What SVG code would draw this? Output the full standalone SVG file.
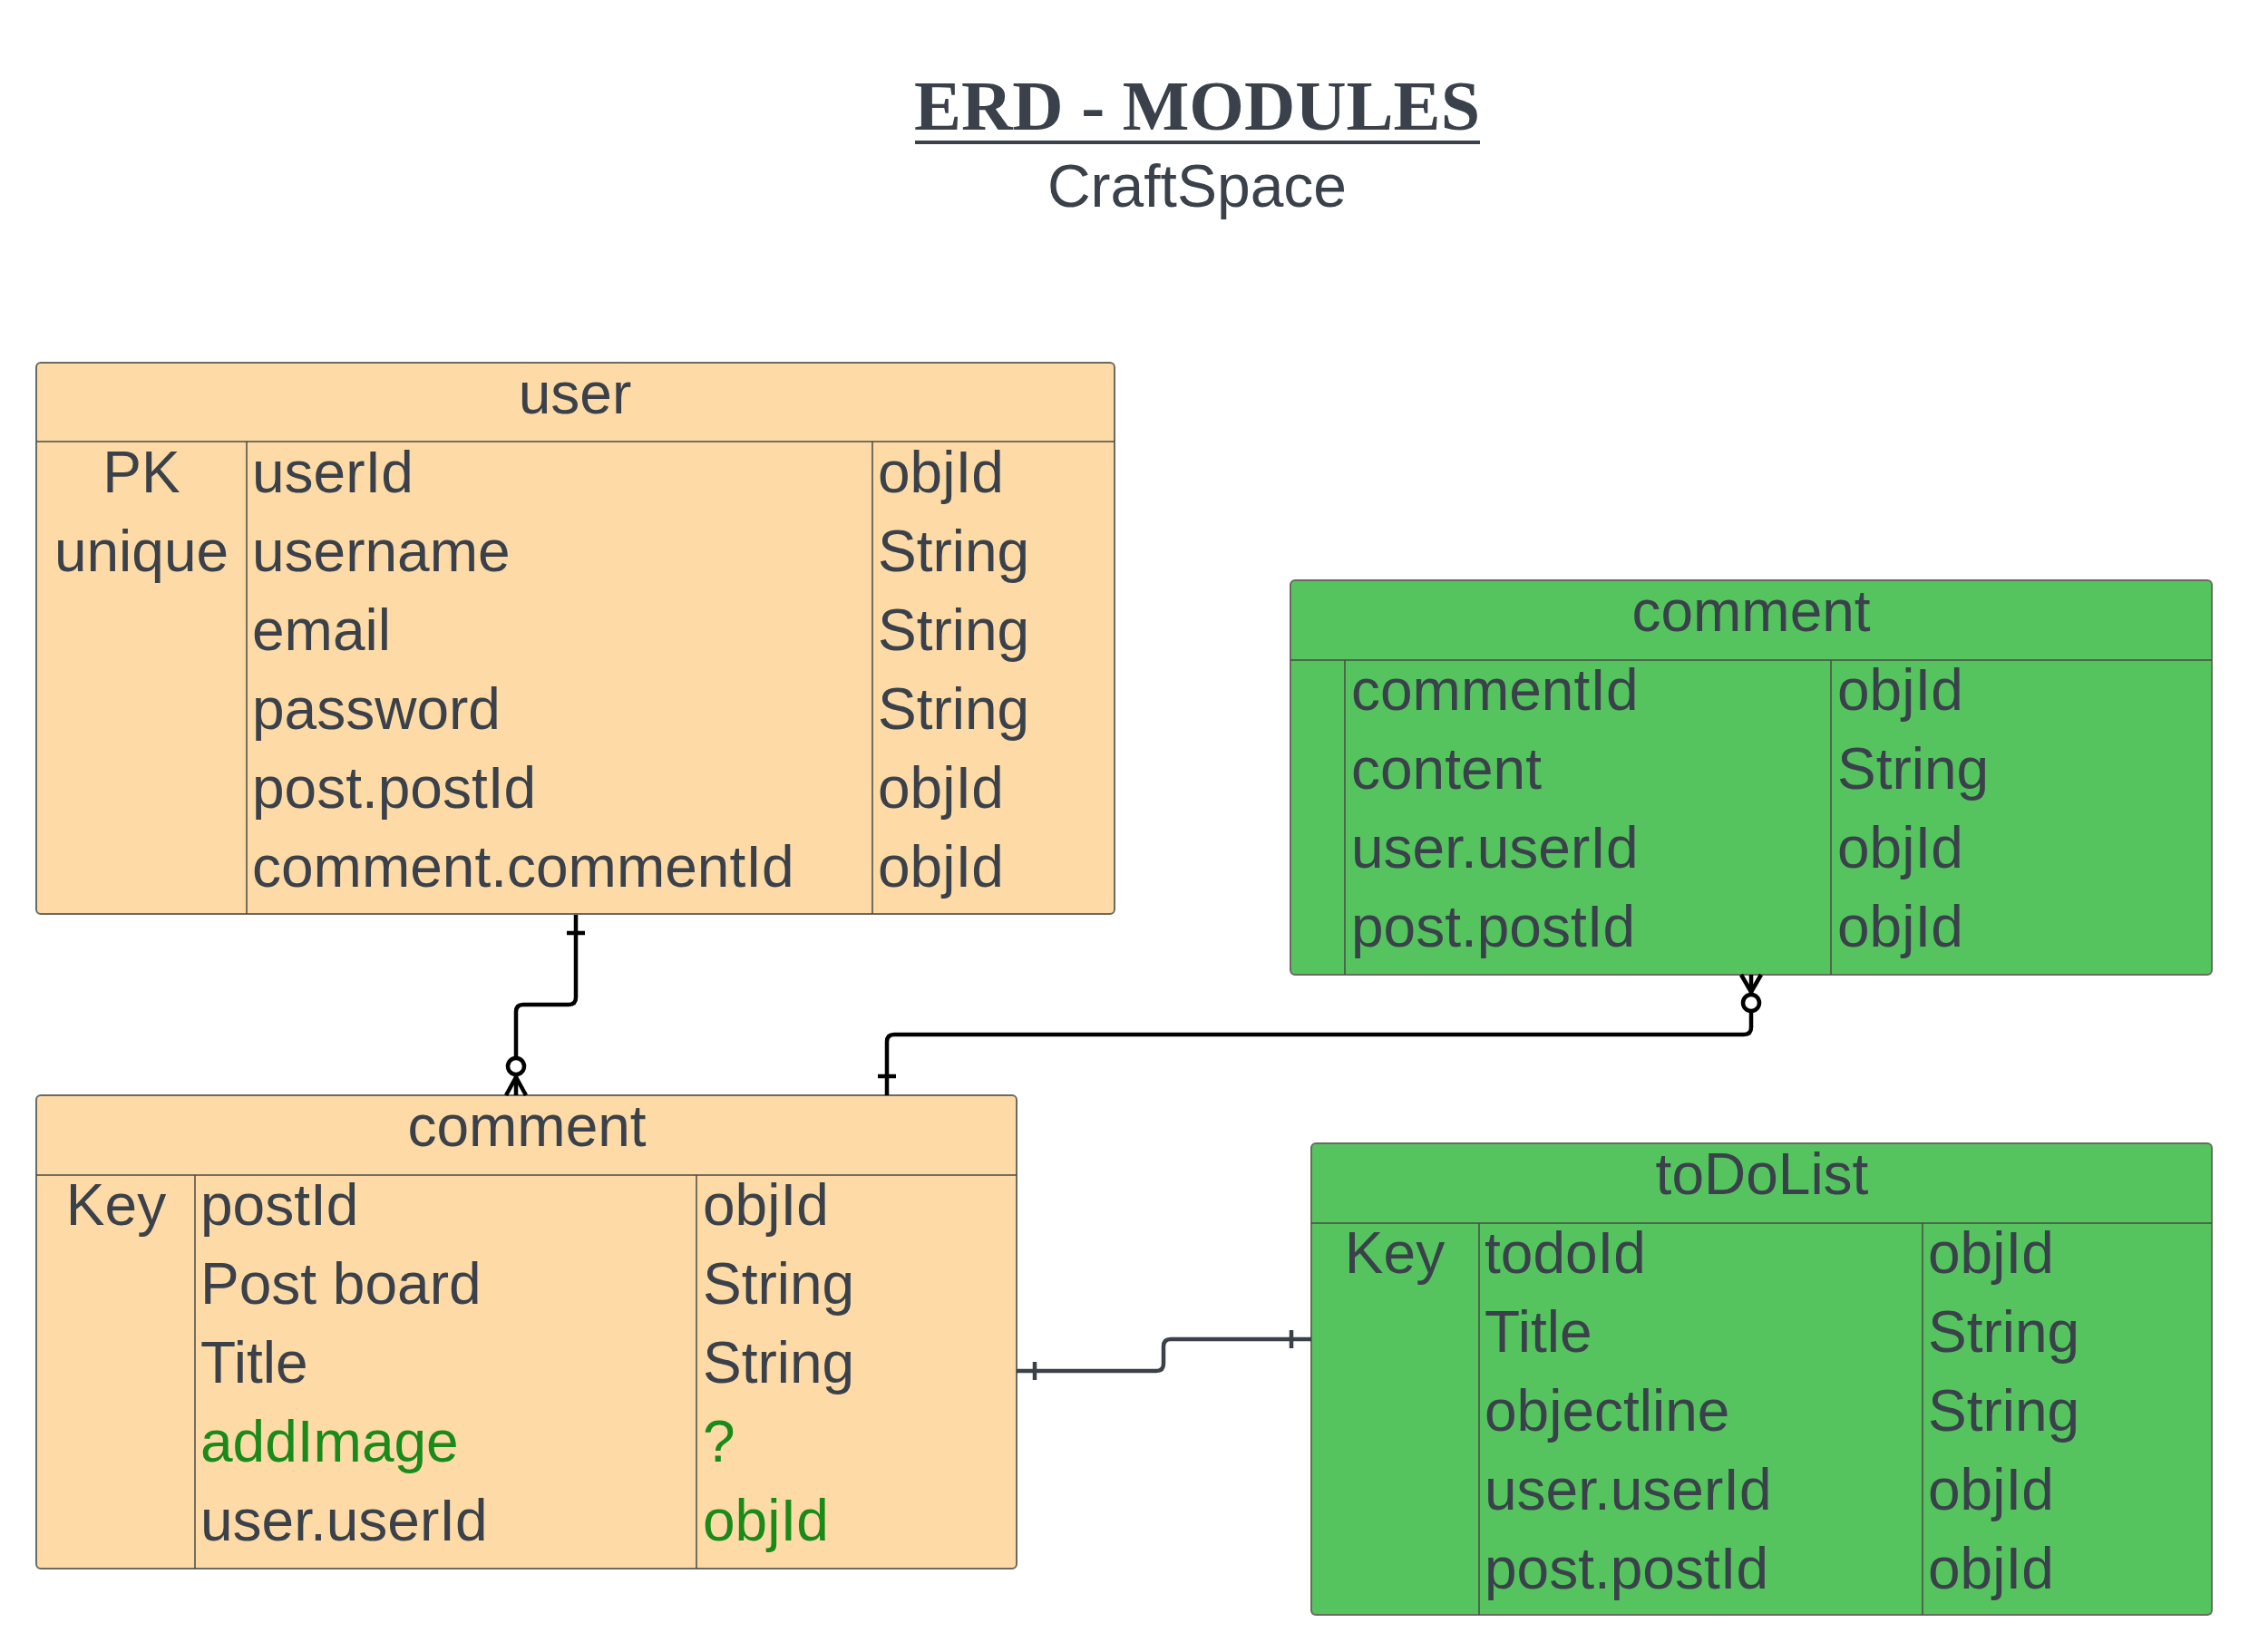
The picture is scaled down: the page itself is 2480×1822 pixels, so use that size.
<svg xmlns="http://www.w3.org/2000/svg" width="2480" height="1822" viewBox="0 0 2480 1822">
<style>
.t{font-family:"Liberation Sans",Arial,sans-serif;font-size:64px;fill:#3a414a}
.c{text-anchor:middle}
.g{fill:#1a8a1a}
.box{stroke:#6b6a60;stroke-width:2}
.or{fill:#fedba6}
.gr{fill:#55c45f}
.div{stroke:#4a4a44;stroke-width:1.5;fill:none}
.ln{fill:none;stroke:#000;stroke-width:4.5;stroke-linejoin:round}
.ln2{fill:none;stroke:#3a414a;stroke-width:4.5;stroke-linejoin:round}
</style>
<rect width="2480" height="1822" fill="#fff"/>
<g id="title">
<text x="1320" y="143" text-anchor="middle" font-family="'Liberation Serif','Times New Roman',serif" font-weight="bold" font-size="78" fill="#3a414a">ERD - MODULES</text>
<rect x="1009" y="155" width="623" height="4" fill="#3a414a"/>
<text x="1320" y="228" class="t c" style="font-size:66px">CraftSpace</text>
</g>
<g id="user">
<rect class="box or" x="40" y="400" width="1189" height="608" rx="5"/>
<path class="div" d="M40 487H1229M272 487V1008M962 487V1008"/>
<text class="t c" x="634" y="456">user</text>
<text class="t c" x="156" y="543">PK</text>
<text class="t c" x="156" y="630">unique</text>
<text class="t" x="278" y="543">userId</text>
<text class="t" x="278" y="630">username</text>
<text class="t" x="278" y="717">email</text>
<text class="t" x="278" y="804">password</text>
<text class="t" x="278" y="891">post.postId</text>
<text class="t" x="278" y="978">comment.commentId</text>
<text class="t" x="968" y="543">objId</text>
<text class="t" x="968" y="630">String</text>
<text class="t" x="968" y="717">String</text>
<text class="t" x="968" y="804">String</text>
<text class="t" x="968" y="891">objId</text>
<text class="t" x="968" y="978">objId</text>
</g>
<g id="comment-green">
<rect class="box gr" x="1423" y="640" width="1016" height="435" rx="5"/>
<path class="div" d="M1423 728H2439M1483 728V1075M2019 728V1075"/>
<text class="t c" x="1931" y="696">comment</text>
<text class="t" x="1490" y="783">commentId</text>
<text class="t" x="1490" y="870">content</text>
<text class="t" x="1490" y="957">user.userId</text>
<text class="t" x="1490" y="1044">post.postId</text>
<text class="t" x="2026" y="783">objId</text>
<text class="t" x="2026" y="870">String</text>
<text class="t" x="2026" y="957">objId</text>
<text class="t" x="2026" y="1044">objId</text>
</g>
<g id="comment-orange">
<rect class="box or" x="40" y="1208" width="1081" height="522" rx="5"/>
<path class="div" d="M40 1296H1121M215 1296V1730M768 1296V1730"/>
<text class="t c" x="581" y="1264">comment</text>
<text class="t c" x="128" y="1351">Key</text>
<text class="t" x="221" y="1351">postId</text>
<text class="t" x="221" y="1438">Post board</text>
<text class="t" x="221" y="1525">Title</text>
<text class="t g" x="221" y="1612">addImage</text>
<text class="t" x="221" y="1699">user.userId</text>
<text class="t" x="775" y="1351">objId</text>
<text class="t" x="775" y="1438">String</text>
<text class="t" x="775" y="1525">String</text>
<text class="t g" x="775" y="1612">?</text>
<text class="t g" x="775" y="1699">objId</text>
</g>
<g id="todolist">
<rect class="box gr" x="1446" y="1261" width="993" height="520" rx="5"/>
<path class="div" d="M1446 1349H2439M1631 1349V1781M2120 1349V1781"/>
<text class="t c" x="1943" y="1317">toDoList</text>
<text class="t c" x="1538" y="1404">Key</text>
<text class="t" x="1637" y="1404">todoId</text>
<text class="t" x="1637" y="1491">Title</text>
<text class="t" x="1637" y="1578">objectline</text>
<text class="t" x="1637" y="1665">user.userId</text>
<text class="t" x="1637" y="1752">post.postId</text>
<text class="t" x="2126" y="1404">objId</text>
<text class="t" x="2126" y="1491">String</text>
<text class="t" x="2126" y="1578">String</text>
<text class="t" x="2126" y="1665">objId</text>
<text class="t" x="2126" y="1752">objId</text>
</g>
<g id="connectors">
<path class="ln" d="M635 1009V1100Q635 1108 627 1108H577Q569 1108 569 1116V1208"/>
<path class="ln" d="M625 1029H645"/>
<circle cx="569" cy="1176" r="9" fill="#fff" stroke="#000" stroke-width="4.5"/>
<path class="ln" d="M558 1208L569 1188L580 1208"/>
<path class="ln" d="M978 1208V1149Q978 1141 986 1141H1923Q1931 1141 1931 1133V1075"/>
<path class="ln" d="M968 1187H988"/>
<circle cx="1931" cy="1106" r="9" fill="#fff" stroke="#000" stroke-width="4.5"/>
<path class="ln" d="M1920 1075L1931 1094L1942 1075"/>
<path class="ln2" d="M1121 1512H1275Q1283 1512 1283 1504V1485Q1283 1477 1291 1477H1446"/>
<path class="ln2" d="M1141 1502V1522M1424 1467V1487"/>
</g>
</svg>
